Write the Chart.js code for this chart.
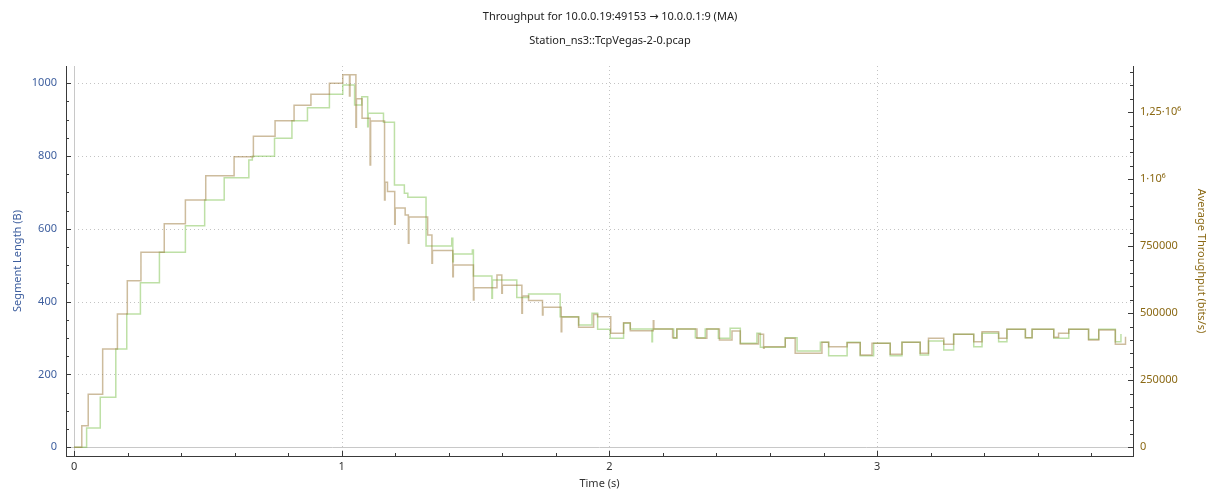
<!DOCTYPE html>
<html>
<head>
<meta charset="utf-8">
<script src="https://cdn.jsdelivr.net/npm/chart.js@4.4.1/dist/chart.umd.min.js"></script>
<style>
  html, body { margin: 0; padding: 0; background: #fff; }
  #wrap { width: 1210px; height: 490px; }
</style>
</head>
<body>
<div id="wrap"><canvas id="tput"></canvas></div>
<script>
// moving-average throughput: time each level starts (s), level (bits/s)
const maTimes = [0, 0.029, 0.053, 0.107, 0.162, 0.199, 0.250, 0.337, 0.416, 0.492,
  0.598, 0.670, 0.751, 0.822, 0.885, 0.954, 1.004, 1.029, 1.031, 1.053,
  1.055, 1.076, 1.106, 1.108, 1.160, 1.162, 1.171, 1.198, 1.200, 1.237,
  1.249, 1.251, 1.321, 1.337, 1.339, 1.415, 1.417, 1.492, 1.494, 1.580,
  1.598, 1.600, 1.673, 1.675, 1.698, 1.750, 1.752, 1.820, 1.822, 1.885,
  1.941, 1.956, 2.005, 2.053, 2.078, 2.164, 2.166, 2.236, 2.252, 2.327,
  2.364, 2.411, 2.458, 2.489, 2.557, 2.576, 2.578, 2.657, 2.694, 2.794,
  2.819, 2.888, 2.937, 2.981, 3.049, 3.093, 3.161, 3.192, 3.249, 3.286,
  3.361, 3.392, 3.454, 3.485, 3.554, 3.579, 3.660, 3.678, 3.716, 3.790,
  3.828, 3.890, 3.928];
const maValues = [0, 80600, 197700, 366800, 497300, 621600, 727500, 834300, 922700, 1013300,
  1084200, 1160300, 1218600, 1276000, 1317000, 1358100, 1390200, 1310700, 1390200, 1193900,
  1300600, 1227500, 1053300, 1217400, 922700, 988700, 954400, 832200, 892800, 866700,
  761100, 859200, 792100, 686500, 734300, 636500, 680200, 549600, 595500, 642900,
  574600, 604400, 500000, 564500, 547700, 493600, 522300, 431400, 486200, 447700,
  495500, 487300, 425300, 464900, 435000, 472300, 441400, 408900, 441400, 406700,
  441400, 400300, 433900, 385400, 421600, 369400, 375300, 406700, 350700, 391800,
  375300, 390300, 344400, 388000, 347000, 391800, 350700, 406700, 384300, 421600,
  394000, 431300, 406700, 440300, 408900, 440300, 410400, 425300, 440300, 400300,
  437700, 384300, 412600];

// second stream throughput, same layout
const avgTimes = [0, 0.047, 0.098, 0.156, 0.197, 0.248, 0.319, 0.416, 0.488, 0.561,
  0.653, 0.666, 0.749, 0.814, 0.872, 0.954, 1.004, 1.048, 1.075, 1.097,
  1.099, 1.156, 1.197, 1.234, 1.247, 1.315, 1.411, 1.415, 1.417, 1.488,
  1.492, 1.561, 1.563, 1.654, 1.698, 1.816, 1.885, 1.935, 1.956, 2.003,
  2.053, 2.078, 2.159, 2.161, 2.240, 2.252, 2.321, 2.358, 2.407, 2.451,
  2.489, 2.551, 2.564, 2.657, 2.701, 2.788, 2.819, 2.888, 2.937, 2.987,
  3.049, 3.093, 3.161, 3.192, 3.249, 3.286, 3.361, 3.392, 3.454, 3.485,
  3.554, 3.579, 3.660, 3.716, 3.790, 3.828, 3.890, 3.911];
const avgValues = [0, 72000, 186600, 366800, 497300, 614100, 727500, 826800, 922700, 1005900,
  1071900, 1085700, 1152900, 1218600, 1267100, 1317000, 1351800, 1277100, 1308100, 1196200,
  1246200, 1212600, 978600, 947700, 932800, 751000, 779800, 692500, 721200, 736100,
  639100, 555900, 624200, 558900, 572000, 487300, 456300, 500000, 440300, 406700,
  462600, 441400, 394000, 441400, 406700, 441400, 408900, 441400, 406700, 444000,
  388000, 425300, 373100, 408900, 359300, 391800, 341800, 391800, 341800, 388000,
  341800, 391800, 344400, 396600, 363000, 421600, 375300, 425300, 394000, 440300,
  408900, 440300, 406700, 440300, 403000, 440300, 394000, 422700];

const segTicks = [0, 200, 400, 600, 800, 1000];
const tputTicks = [0, 250000, 500000, 750000, 1000000, 1250000];
const tputTickLabels = ['0', '250000', '500000', '750000', '1·10⁶', '1,25·10⁶'];
const timeTicks = [0, 1, 2, 3];

const FONT = "'Noto Sans', 'DejaVu Sans', sans-serif";
const BLUE = '#3d5e9e';
const OLIVE = '#8b6914';

const toPoints = (ts, vs) => ts.map((t, i) => ({ x: t, y: vs[i] }));

function minorValues(from, to, step, major) {
  const out = [];
  for (let v = from; v <= to + 1e-9; v += step) {
    const r = Math.round(v * 1000) / 1000;
    if (Math.abs(r / major - Math.round(r / major)) > 1e-6) out.push(r);
  }
  return out;
}

// dotted grid, zero lines and inward tick marks
const plotFrame = {
  id: 'plotFrame',
  beforeDatasetsDraw(chart) {
    const { ctx, chartArea: a, scales } = chart;
    ctx.save();
    ctx.lineWidth = 1;
    ctx.strokeStyle = '#c4c4c4';
    ctx.setLineDash([1, 3]);
    segTicks.forEach(v => {
      if (v === 0) return;
      const y = Math.round(scales.y.getPixelForValue(v)) + 0.5;
      ctx.beginPath(); ctx.moveTo(a.left, y); ctx.lineTo(a.right, y); ctx.stroke();
    });
    timeTicks.forEach(v => {
      if (v === 0) return;
      const x = Math.round(scales.x.getPixelForValue(v)) + 0.5;
      ctx.beginPath(); ctx.moveTo(x, a.top); ctx.lineTo(x, a.bottom); ctx.stroke();
    });
    ctx.setLineDash([]);
    ctx.strokeStyle = '#c8c8c8';
    const y0 = Math.round(scales.y.getPixelForValue(0)) + 0.5;
    ctx.beginPath(); ctx.moveTo(a.left, y0); ctx.lineTo(a.right, y0); ctx.stroke();
    const x0 = Math.round(scales.x.getPixelForValue(0)) + 0.5;
    ctx.beginPath(); ctx.moveTo(x0, a.top); ctx.lineTo(x0, a.bottom); ctx.stroke();
    ctx.restore();
  },
  afterDraw(chart) {
    const { ctx, chartArea: a, scales } = chart;
    ctx.save();
    ctx.lineWidth = 1;
    ctx.strokeStyle = '#3a3a3a';
    const xs = scales.x, yl = scales.y, yr = scales.y1;
    const xMark = (v, len) => {
      const x = Math.round(xs.getPixelForValue(v)) + 0.5;
      ctx.beginPath(); ctx.moveTo(x, a.bottom); ctx.lineTo(x, a.bottom - len); ctx.stroke();
    };
    const lMark = (v, len) => {
      const y = Math.round(yl.getPixelForValue(v)) + 0.5;
      ctx.beginPath(); ctx.moveTo(a.left, y); ctx.lineTo(a.left + len, y); ctx.stroke();
    };
    const rMark = (v, len) => {
      const y = Math.round(yr.getPixelForValue(v)) + 0.5;
      ctx.beginPath(); ctx.moveTo(a.right, y); ctx.lineTo(a.right - len, y); ctx.stroke();
    };
    timeTicks.forEach(v => xMark(v, 5));
    minorValues(0, xs.max, 0.2, 1).forEach(v => xMark(v, 3));
    segTicks.forEach(v => lMark(v, 5));
    minorValues(0, yl.max, 50, 200).forEach(v => lMark(v, 3));
    tputTicks.forEach(v => rMark(v, 5));
    minorValues(0, yr.max, 50000, 250000).forEach(v => rMark(v, 3));
    ctx.restore();
  }
};

new Chart(document.getElementById('tput'), {
  type: 'line',
  data: {
    datasets: [
      {
        data: toPoints(maTimes, maValues),
        yAxisID: 'y1',
        stepped: 'before',
        borderColor: 'rgba(150, 115, 50, 0.48)',
        borderWidth: 1.5,
        pointRadius: 0,
        fill: false
      },
      {
        data: toPoints(avgTimes, avgValues),
        yAxisID: 'y1',
        stepped: 'before',
        borderColor: 'rgba(120, 190, 70, 0.48)',
        borderWidth: 1.5,
        pointRadius: 0,
        fill: false
      }
    ]
  },
  options: {
    responsive: true,
    maintainAspectRatio: false,
    animation: false,
    layout: { padding: { left: 10, right: 0, top: 0, bottom: 0 } },
    plugins: {
      legend: { display: false },
      tooltip: { enabled: false },
      title: {
        display: true,
        text: 'Throughput for 10.0.0.19:49153 → 10.0.0.1:9 (MA)',
        color: '#222',
        font: { family: FONT, size: 11, weight: 'normal' },
        padding: { top: 10, bottom: 11 }
      },
      subtitle: {
        display: true,
        text: 'Station_ns3::TcpVegas-2-0.pcap',
        color: '#222',
        font: { family: FONT, size: 11, weight: 'normal' },
        padding: { top: 0, bottom: 18.6 }
      }
    },
    scales: {
      x: {
        type: 'linear',
        min: -0.03,
        max: 3.956,
        afterFit: s => { s.height = 34; },
        afterBuildTicks: s => { s.ticks = timeTicks.map(v => ({ value: v })); },
        grid: { display: false, drawTicks: false },
        border: { display: true, color: '#3a3a3a', width: 1 },
        ticks: { color: '#333', padding: 4, maxRotation: 0, font: { family: FONT, size: 11 },
                 callback: v => String(v) },
        title: { display: true, text: 'Time (s)', color: '#333', padding: { top: 0, bottom: 0 },
                 font: { family: FONT, size: 11 } }
      },
      y: {
        position: 'left',
        min: -23.9,
        max: 1047.5,
        afterFit: s => { s.width = 56; },
        afterBuildTicks: s => { s.ticks = segTicks.map(v => ({ value: v })); },
        grid: { display: false, drawTicks: false },
        border: { display: true, color: '#3a3a3a', width: 1 },
        ticks: { color: BLUE, padding: 9, font: { family: FONT, size: 11 },
                 callback: v => String(v) },
        title: { display: true, text: 'Segment Length (B)', color: BLUE, padding: { top: 1.4, bottom: 0 },
                 font: { family: FONT, size: 11 } }
      },
      y1: {
        position: 'right',
        min: -32460,
        max: 1422600,
        afterFit: s => { s.width = 77; },
        afterBuildTicks: s => { s.ticks = tputTicks.map(v => ({ value: v })); },
        grid: { display: false, drawTicks: false },
        border: { display: true, color: '#3a3a3a', width: 1 },
        ticks: {
          color: OLIVE,
          padding: 7,
          font: { family: FONT, size: 11 },
          callback: v => tputTickLabels[tputTicks.indexOf(v)]
        },
        title: { display: true, text: 'Average Throughput (bits/s)', color: OLIVE, padding: { top: 2.4, bottom: 0 },
                 font: { family: FONT, size: 11 } }
      }
    }
  },
  plugins: [plotFrame]
});
</script>
</body>
</html>
